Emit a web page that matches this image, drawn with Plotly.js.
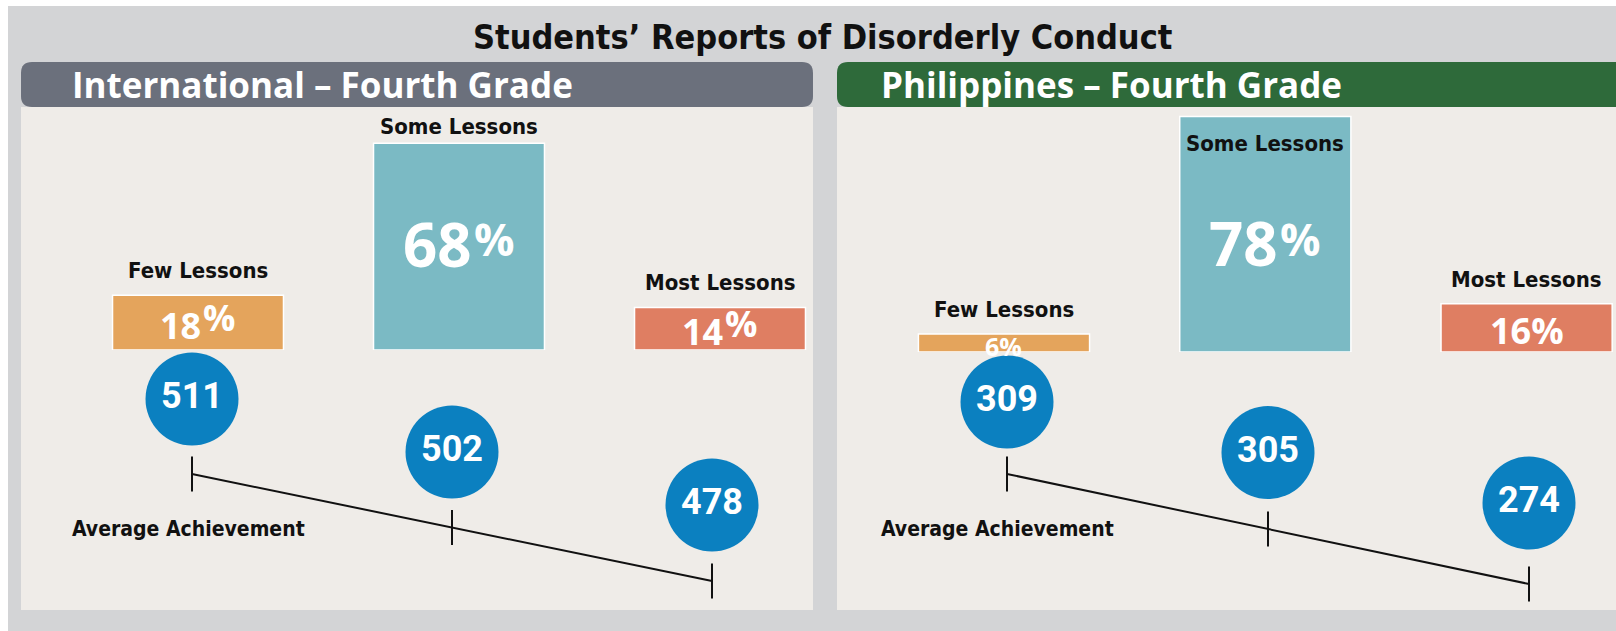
<!DOCTYPE html>
<html>
<head>
<meta charset="utf-8">
<script src="https://cdn.plot.ly/plotly-3.0.1.min.js"></script>
<style>html,body{margin:0;padding:0;background:#fff;}#chart{width:1616px;height:631px;}</style>
</head>
<body>
<div id="chart"></div>
<script>
// ---------------- DATA ----------------
const chartTitle = "Students’ Reports of Disorderly Conduct";
const panelTitles = ["International – Fourth Grade", "Philippines – Fourth Grade"];
const categories = ["Few Lessons", "Some Lessons", "Most Lessons"];
const intlPercent = [18, 68, 14];
const phlPercent = [6, 78, 16];
const intlAchievement = [511, 502, 478];
const phlAchievement = [309, 305, 274];
const achievementLabel = "Average Achievement";

// ---------------- STYLE ----------------
const W = 1616, H = 631;
const COND = "'DejaVu Sans Condensed', 'DejaVu Sans', sans-serif";
const WIDE = "'Open Sans', 'Noto Sans', 'DejaVu Sans', sans-serif";
const NUM = "Roboto, 'Liberation Sans', sans-serif";
const barColors = ["#e4a45c", "#7bbac4", "#df7e62"];
const circleColor = "#0b80c0";
const headerColors = ["#6b707c", "#2e6a3a"];
const X = v => v / W;
const Y = v => 1 - v / H;

const cv = document.createElement("canvas").getContext("2d");
function textW(t, size, fam) { cv.font = `bold ${size}px ${fam}`; return cv.measureText(t).width; }

function rr(x0, y0, x1, y1, r) {
  const a = v => (v / W).toFixed(5), b = v => (1 - v / H).toFixed(5);
  return `M${a(x0 + r)},${b(y0)} L${a(x1 - r)},${b(y0)} Q${a(x1)},${b(y0)} ${a(x1)},${b(y0 + r)} ` +
         `L${a(x1)},${b(y1 - r)} Q${a(x1)},${b(y1)} ${a(x1 - r)},${b(y1)} L${a(x0 + r)},${b(y1)} ` +
         `Q${a(x0)},${b(y1)} ${a(x0)},${b(y1 - r)} L${a(x0)},${b(y0 + r)} Q${a(x0)},${b(y0)} ${a(x0 + r)},${b(y0)} Z`;
}

// panel geometry (pixels) – layout only
const panels = [
  { x0: 21, x1: 813, barAxis: ["x", "y"], circAxis: ["x3", "y3"], lineAxis: "y5",
    pct: intlPercent, ach: intlAchievement, pctStyle: ["raised", "shrunk", "raised"],
    barX0: 198, barUnit: 261, barBottom: 350, pxPerPct: 3.04,
    circX0: 192, circUnit: 260, circY0: 399, circStep: 53,
    lineY0: 474, lineStep: 53.5, textX: 70 },
  { x0: 837, x1: 1616, barAxis: ["x2", "y2"], circAxis: ["x4", "y4"], lineAxis: "y6",
    pct: phlPercent, ach: phlAchievement, pctStyle: ["plain", "shrunk", "plain"],
    barX0: 1004, barUnit: 261.3, barBottom: 352, pxPerPct: 3.02,
    circX0: 1007, circUnit: 261, circY0: 402, circStep: 50.5,
    lineY0: 474, lineStep: 55, textX: 879 }
];
const panelTop = 107, headerTop = 62;

const shapes = [
  { type: "rect", xref: "paper", yref: "paper", x0: X(8), x1: 1, y0: 0, y1: Y(6),
    fillcolor: "#d3d4d6", line: { width: 0 }, layer: "below" }
];
const annotations = [];
const traces = [];
const layout = {
  width: W, height: H, margin: { l: 0, r: 0, t: 0, b: 0 },
  paper_bgcolor: "#ffffff", plot_bgcolor: "rgba(0,0,0,0)",
  showlegend: false, bargap: 0.345, hovermode: false
};
const hidden = { showgrid: false, zeroline: false, showticklabels: false, ticks: "", showline: false, fixedrange: true };

annotations.push({
  xref: "paper", yref: "paper", x: X(823), y: Y(37), xanchor: "center", yanchor: "middle",
  text: "<b>" + chartTitle + "</b>", showarrow: false,
  font: { family: COND, size: 34, color: "#111111" }
});

panels.forEach((p, pi) => {
  shapes.push({ type: "rect", xref: "paper", yref: "paper", x0: X(p.x0), x1: X(p.x1), y0: Y(610), y1: Y(panelTop),
    fillcolor: "#efece8", line: { width: 0 }, layer: "below" });
  shapes.push({ type: "path", xref: "paper", yref: "paper",
    path: rr(p.x0, headerTop, pi === 1 ? p.x1 + 30 : p.x1, panelTop, 11),
    fillcolor: headerColors[pi], line: { width: 0 }, layer: "below" });
  annotations.push({ xref: "paper", yref: "paper", x: X(p.textX), y: Y(85), xanchor: "left", yanchor: "middle",
    text: "<b>" + panelTitles[pi] + "</b>", showarrow: false,
    font: { family: WIDE, size: 35, color: "#ffffff" } });

  const [xa, ya] = p.barAxis, [cxa, cya] = p.circAxis;
  const xaName = "xaxis" + (xa === "x" ? "" : xa.slice(1));
  const yaName = "yaxis" + (ya === "y" ? "" : ya.slice(1));
  const cxaName = "xaxis" + cxa.slice(1), cyaName = "yaxis" + cya.slice(1), lyaName = "yaxis" + p.lineAxis.slice(1);

  layout[xaName] = Object.assign({}, hidden, { type: "category", categoryorder: "array", categoryarray: categories,
    domain: [X(p.x0), X(p.x1)], range: [(p.x0 - p.barX0) / p.barUnit, (p.x1 - p.barX0) / p.barUnit], anchor: ya });
  layout[yaName] = Object.assign({}, hidden, { domain: [Y(p.barBottom), Y(panelTop)],
    range: [0, (p.barBottom - panelTop) / p.pxPerPct], anchor: xa });
  layout[cxaName] = Object.assign({}, hidden, { type: "category", categoryorder: "array", categoryarray: categories,
    domain: [X(p.x0), X(p.x1)], range: [(p.x0 - p.circX0) / p.circUnit, (p.x1 - p.circX0) / p.circUnit], anchor: cya });
  layout[cyaName] = Object.assign({}, hidden, { domain: [0, 1],
    range: [(H - p.circY0) / p.circStep, -p.circY0 / p.circStep], anchor: cxa });
  layout[lyaName] = Object.assign({}, hidden, { domain: [0, 1],
    range: [(H - p.lineY0) / p.lineStep, -p.lineY0 / p.lineStep], anchor: cxa });

  // bars
  traces.push({ type: "bar", x: categories, y: p.pct, xaxis: xa, yaxis: ya,
    marker: { color: barColors, line: { color: "#ffffff", width: 1.5 } }, hoverinfo: "skip" });

  const topLimit = (p.barBottom - panelTop) / p.pxPerPct;
  categories.forEach((c, i) => {
    const v = p.pct[i];
    const room = (topLimit - v) * p.pxPerPct - 26;
    const inside = room < 4;
    annotations.push({ xref: xa, yref: ya, x: c, y: v, xanchor: "center",
      yanchor: inside ? "top" : "bottom", yshift: inside ? -13 : Math.min(10, room - 8),
      text: "<b>" + c + "</b>", showarrow: false,
      font: { family: COND, size: 22, color: "#111111" } });

    const big = v >= 50;
    const size = big ? 60 : (v >= 10 ? 36 : 25);
    const baseShift = inside ? -9 : (big ? 3 : -3);
    const st = p.pctStyle[i];
    const common = { xref: xa, yref: ya, x: c, y: v / 2, yanchor: "middle", showarrow: false, borderpad: 0 };
    if (st === "plain") {
      annotations.push(Object.assign({}, common, { xanchor: "center", yshift: baseShift,
        text: "<b>" + v + "%</b>", font: { family: WIDE, size: size, color: "#ffffff" } }));
    } else {
      const pSize = st === "shrunk" ? Math.round(size * 0.75) : size;
      const raise = st === "shrunk" ? 0.08 * size : 0.23 * size;
      const nW = textW(String(v), size, WIDE), pW = textW("%", pSize, WIDE);
      const off = (nW - pW) / 2;
      annotations.push(Object.assign({}, common, { xanchor: "right", xshift: off, yshift: baseShift,
        text: "<b>" + v + "</b>", font: { family: WIDE, size: size, color: "#ffffff" } }));
      annotations.push(Object.assign({}, common, { xanchor: "left", xshift: off, yshift: baseShift + raise,
        text: "<b>%</b>", font: { family: WIDE, size: pSize, color: "#ffffff" } }));
    }
  });

  // achievement line with ticks (stagger follows category order)
  const order = categories.map((c, i) => i);
  traces.push({ type: "scatter", mode: "lines+markers", x: categories, y: order, xaxis: cxa, yaxis: p.lineAxis,
    line: { color: "#111111", width: 2 },
    marker: { symbol: "line-ns-open", size: 25, line: { color: "#111111", width: 2 } }, hoverinfo: "skip" });

  // achievement circles
  traces.push({ type: "scatter", mode: "markers+text", x: categories, y: order, xaxis: cxa, yaxis: cya,
    marker: { size: 93, color: circleColor, line: { width: 0 } },
    text: p.ach.map(String), textposition: "middle center",
    textfont: { family: NUM, size: 36, color: "#ffffff", weight: "bold" }, hoverinfo: "skip" });

  annotations.push({ xref: "paper", yref: "paper", x: X(p.textX), y: Y(529), xanchor: "left", yanchor: "middle",
    text: "<b>" + achievementLabel + "</b>", showarrow: false,
    font: { family: COND, size: 21, color: "#111111" } });
});

layout.shapes = shapes;
layout.annotations = annotations;
Plotly.newPlot("chart", traces, layout, { displayModeBar: false, staticPlot: true });
</script>
</body>
</html>
